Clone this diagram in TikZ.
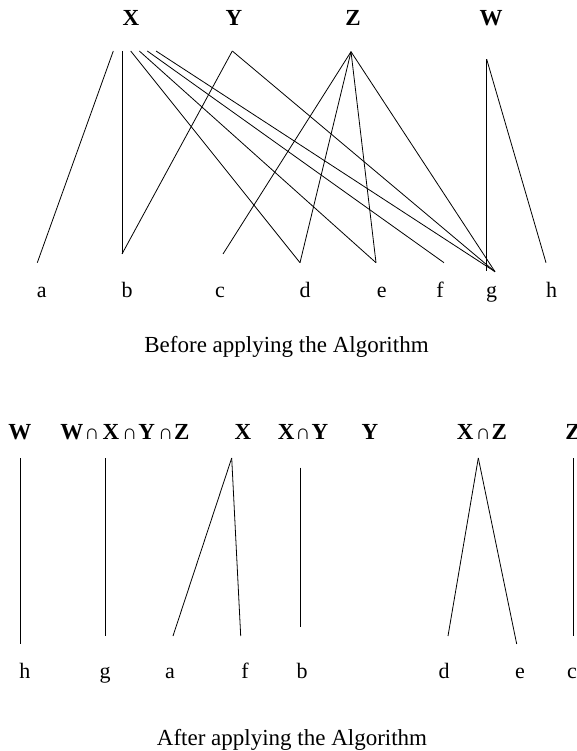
\documentclass[tikz,border=0pt]{standalone}
\usepackage{fontspec}
\setmainfont{Liberation Serif}
% intersection sign used inside the set labels
\newcommand\intsym{{\fontsize{21}{21}\selectfont\mdseries ∩}}
\begin{document}
\begin{tikzpicture}[x=1pt,y=-1pt,
  lbl/.style={font=\fontsize{22}{26}\selectfont, anchor=base, inner sep=0pt},
  setlbl/.style={font=\fontsize{23}{27}\selectfont\bfseries, anchor=base, inner sep=0pt},
  caption/.style={font=\fontsize{23}{28}\selectfont, anchor=base, inner sep=0pt},
  link/.style={line width=0.8pt}]
\useasboundingbox (0,0) rectangle (576,751);

% ---------- before ----------
\node[setlbl] (tX) at (131,26) {X};
\node[setlbl] (tY) at (234,26) {Y};
\node[setlbl] (tZ) at (353,26) {Z};
\node[setlbl] (tW) at (491,26) {W};

\coordinate (x1) at (113.3,51);
\coordinate (x2) at (122,51);
\coordinate (x3) at (130.7,51);
\coordinate (x4) at (139.3,51);
\coordinate (x5) at (147.3,51);
\coordinate (x6) at (156,51);
\coordinate (y0) at (232.3,51);
\coordinate (z0) at (351,51.7);
\coordinate (w0) at (486.7,59.3);

\coordinate (ea) at (37.3,262.7);
\coordinate (eb) at (122,254);
\coordinate (ec) at (223,254);
\coordinate (ed) at (300,262.7);
\coordinate (ee) at (376,262.7);
\coordinate (ef) at (444,262.7);
\coordinate (eg) at (495,271.7);
\coordinate (egw) at (486.7,271);
\coordinate (eh) at (546,262.7);

\draw[link] (x1) -- (ea);
\draw[link] (x2) -- (eb);
\draw[link] (x3) -- (ed);
\draw[link] (x4) -- (ee);
\draw[link] (x5) -- (ef);
\draw[link] (x6) -- (eg);
\draw[link] (y0) -- (eb);
\draw[link] (y0) -- (eg);
\draw[link] (z0) -- (ec);
\draw[link] (z0) -- (ed);
\draw[link] (z0) -- (ee);
\draw[link] (z0) -- (eg);
\draw[link] (w0) -- (egw);
\draw[link] (w0) -- (eh);

\node[lbl] (la) at (41.7,297) {a};
\node[lbl] (lb) at (127,297) {b};
\node[lbl] (lc) at (220,297) {c};
\node[lbl] (ld) at (305,297) {d};
\node[lbl] (le) at (381.7,297) {e};
\node[lbl] (lf) at (440,297) {f};
\node[lbl] (lg) at (491.7,297) {g};
\node[lbl] (lh) at (551.7,297) {h};

\node[caption] (before) at (286.5,352) {Before applying the Algorithm};

% ---------- after ----------
\node[setlbl] (bW) at (20,439) {W};
\node[setlbl] (bWXYZ) at (125,439) {W\hspace{1pt}\intsym\hspace{3pt}X\hspace{3pt}\intsym\hspace{1pt}Y\hspace{3pt}\intsym\hspace{1pt}Z};
\node[setlbl] (bX) at (243,439) {X};
\node[setlbl] (bXY) at (303,439) {X\hspace{1pt}\intsym\hspace{1pt}Y};
\node[setlbl] (bY) at (370,439) {Y};
\node[setlbl] (bXZ) at (482,439) {X\hspace{2pt}\intsym\hspace{1pt}Z};
\node[setlbl] (bZ) at (573,439) {Z};

\coordinate (pW) at (20,458);
\coordinate (pWXYZ) at (105,458);
\coordinate (pX) at (231.7,458);
\coordinate (pXY) at (300,467.7);
\coordinate (pXZ) at (478.3,458);
\coordinate (pZ) at (573.3,458);

\coordinate (qh) at (20,644);
\coordinate (qg) at (105,636);
\coordinate (qa) at (173,636);
\coordinate (qf) at (240.7,636);
\coordinate (qb) at (300,627);
\coordinate (qd) at (448,636);
\coordinate (qe) at (516.7,644);
\coordinate (qc) at (573.3,636);

\draw[link] (pW) -- (qh);
\draw[link] (pWXYZ) -- (qg);
\draw[link] (pX) -- (qa);
\draw[link] (pX) -- (qf);
\draw[link] (pXY) -- (qb);
\draw[link] (pXZ) -- (qd);
\draw[link] (pXZ) -- (qe);
\draw[link] (pZ) -- (qc);

\node[lbl] (mh) at (25,678) {h};
\node[lbl] (mg) at (105,678) {g};
\node[lbl] (ma) at (170,678) {a};
\node[lbl] (mf) at (245,678) {f};
\node[lbl] (mb) at (302,678) {b};
\node[lbl] (md) at (444,678) {d};
\node[lbl] (me) at (520,678) {e};
\node[lbl] (mc) at (572,678) {c};

\node[caption] (after) at (292,745) {After applying the Algorithm};
\end{tikzpicture}
\end{document}
